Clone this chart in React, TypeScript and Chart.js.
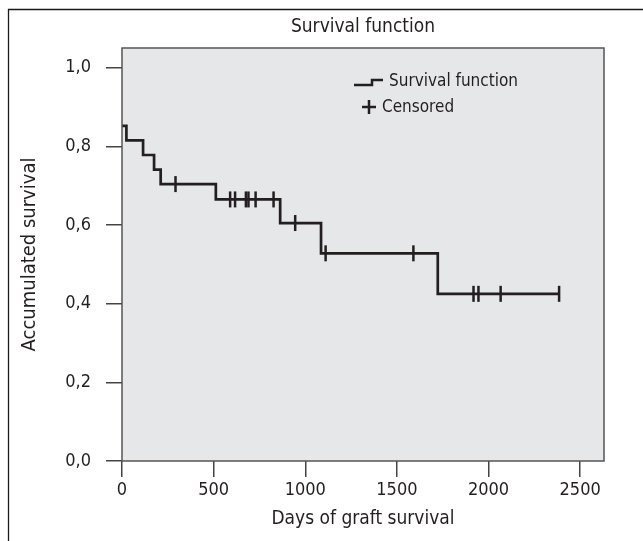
import React, { useEffect, useRef } from "react";
import { Chart, registerables } from "chart.js";

Chart.register(...registerables);

// ---- data ----
const stepDays = [0, 24, 115, 175, 211, 512, 863, 1086, 1723, 2385];
const stepSurvival = [0.852, 0.815, 0.778, 0.741, 0.704, 0.665, 0.605, 0.528, 0.425, 0.425];
const censoredDays = [292, 590, 617, 676, 690, 729, 827, 945, 1111, 1590, 1918, 1945, 2066, 2385];
const censoredSurvival = [0.704, 0.665, 0.665, 0.665, 0.665, 0.665, 0.665, 0.605, 0.528, 0.528, 0.425, 0.425, 0.425, 0.425];
const xTickValues = [0, 500, 1000, 1500, 2000, 2500];
const yTickValues = [0, 0.2, 0.4, 0.6, 0.8, 1.0];
const titleText = "Survival function";
const xTitle = "Days of graft survival";
const yTitle = "Accumulated survival";
const legendLabels = ["Survival function", "Censored"];

const FONT = "'Liberation Sans Narrow', 'Arial Narrow', 'DejaVu Sans Condensed', sans-serif";
const INK = "#231f20";

const framePlugin = {
  id: "frame",
  beforeDraw(chart: any) {
    const { ctx, chartArea: a } = chart;
    ctx.save();
    ctx.strokeStyle = "#1a1a1a";
    ctx.lineWidth = 1.3;
    ctx.beginPath();
    ctx.moveTo(8.5, 541);
    ctx.lineTo(8.5, 9.5);
    ctx.lineTo(643, 9.5);
    ctx.stroke();
    ctx.fillStyle = "#e6e7e9";
    ctx.fillRect(a.left, a.top, a.right - a.left, a.bottom - a.top);
    ctx.restore();
  },
  afterDraw(chart: any) {
    const { ctx, chartArea: a } = chart;
    ctx.save();
    ctx.strokeStyle = "#555555";
    ctx.lineWidth = 1.5;
    ctx.strokeRect(a.left, a.top, a.right - a.left, a.bottom - a.top);
    ctx.restore();
  },
};

const legendPlugin = {
  id: "kmLegend",
  afterDatasetsDraw(chart: any) {
    const { ctx } = chart;
    ctx.save();
    ctx.strokeStyle = INK;
    ctx.lineWidth = 2.5;
    ctx.beginPath();
    ctx.moveTo(354, 85);
    ctx.lineTo(372, 85);
    ctx.lineTo(372, 80);
    ctx.lineTo(383, 80);
    ctx.stroke();
    ctx.beginPath();
    ctx.moveTo(362, 107);
    ctx.lineTo(376, 107);
    ctx.moveTo(369, 100);
    ctx.lineTo(369, 114);
    ctx.stroke();
    ctx.fillStyle = INK;
    ctx.font = `17px ${FONT}`;
    ctx.textBaseline = "middle";
    ctx.textAlign = "left";
    ctx.fillText(legendLabels[0], 389, 82);
    ctx.fillText(legendLabels[1], 382, 108);
    ctx.restore();
  },
};

export default function App() {
  const ref = useRef<HTMLCanvasElement>(null);
  useEffect(() => {
    if (!ref.current) return;
    const chart = new Chart(ref.current, {
      type: "line",
      data: {
        datasets: [
          {
            label: legendLabels[1],
            type: "scatter",
            data: censoredDays.map((d, i) => ({ x: d, y: censoredSurvival[i] })),
            showLine: false,
            pointStyle: "line",
            rotation: 90,
            pointRadius: 8,
            pointBorderWidth: 2.5,
            pointBorderColor: INK,
            borderColor: INK,
            backgroundColor: INK,
          } as any,
          {
            label: legendLabels[0],
            data: stepDays.map((d, i) => ({ x: d, y: stepSurvival[i] })),
            stepped: "before",
            borderColor: INK,
            borderWidth: 2.7,
            pointRadius: 0,
            fill: false,
          } as any,
        ],
      },
      options: {
        animation: false,
        responsive: false,
        layout: { padding: { left: 0, right: 39, top: 0, bottom: 0 } },
        plugins: {
          legend: { display: false },
          tooltip: { enabled: false },
          title: {
            display: true,
            text: titleText,
            fullSize: false,
            color: INK,
            font: { family: FONT, size: 19, weight: "normal" as any, lineHeight: 1.2 },
            padding: { top: 15.6, bottom: 9.6 },
          },
        },
        scales: {
          x: {
            type: "linear",
            min: 0,
            max: 2630,
            afterBuildTicks: (s: any) => {
              s.ticks = xTickValues.map((v) => ({ value: v }));
            },
            afterFit: (s: any) => {
              s.height = 80;
            },
            ticks: {
              autoSkip: false,
              color: INK,
              padding: 3,
              maxRotation: 0,
              font: { family: FONT, size: 18 },
              callback: (v: any) => String(v),
            },
            grid: {
              drawOnChartArea: false,
              drawTicks: true,
              tickLength: 16,
              color: "#444",
              lineWidth: 1.5,
            },
            border: { display: false },
            title: {
              display: true,
              text: xTitle,
              color: INK,
              font: { family: FONT, size: 19, lineHeight: 1.2 },
              padding: 11,
            },
          },
          y: {
            type: "linear",
            min: 0,
            max: 1.05,
            afterBuildTicks: (s: any) => {
              s.ticks = yTickValues.map((v) => ({ value: v }));
            },
            afterFit: (s: any) => {
              s.width = 122;
            },
            ticks: {
              autoSkip: false,
              color: INK,
              padding: 15,
              font: { family: FONT, size: 18 },
              callback: (v: any) => Number(v).toFixed(1).replace(".", ","),
            },
            grid: {
              drawOnChartArea: false,
              drawTicks: true,
              tickLength: 16,
              color: "#444",
              lineWidth: 1.5,
            },
            border: { display: false },
            title: {
              display: true,
              text: yTitle,
              color: INK,
              font: { family: FONT, size: 20, lineHeight: 1.2 },
              padding: 18,
            },
          },
        },
      },
      plugins: [framePlugin, legendPlugin],
    });
    return () => chart.destroy();
  }, []);
  return (
    <div style={{ position: "fixed", left: 0, top: 0, width: 643, height: 541, background: "#fff" }}>
      <canvas ref={ref} width={643} height={541} style={{ display: "block" }} />
    </div>
  );
}
